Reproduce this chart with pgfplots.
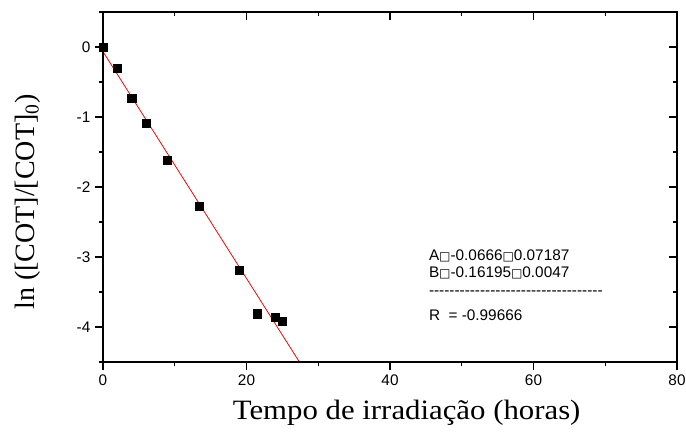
\documentclass[border=0pt]{standalone}
\usepackage{pgfplots}
\pgfplotsset{compat=1.18}
\usepackage{fontspec}
\setmainfont{Liberation Serif}
\newfontfamily\arial{Liberation Sans}
\newfontfamily\dejavu{DejaVu Sans}
\newcommand{\bx}{\raisebox{0.3pt}{\dejavu\fontsize{9}{10}\selectfont □}}
\begin{document}
\begin{tikzpicture}
\pgfplotsset{
  common/.style={
    scale only axis, width=430.5pt, height=262.5pt,
    xmin=0, xmax=80, ymin=-4.5, ymax=0.5,
    xtick={0,20,40,60,80}, minor xtick={10,30,50,70},
    ytick={-4,-3,-2,-1,0}, minor ytick={-4.5,-3.5,-2.5,-1.5,-0.5,0.5},
    major tick length=6pt, minor tick length=3pt,
    axis line style={line width=1.1pt},
    every tick/.style={black, line width=1.1pt},
  }
}
\begin{axis}[common,
  tick align=outside, xtick pos=lower, ytick pos=left,
  xticklabels={0,20,40,60,80},
  yticklabels={-4,-3,-2,-1,0},
  ticklabel style={font=\arial\fontsize{11.5}{13}\selectfont},
  xlabel={Tempo de irradiação (horas)},
  ylabel={ln ([COT]/[COT]$_{\mathrm{0}}$)},
  xlabel style={font=\fontsize{21}{24}\selectfont, at={(axis description cs:0.529,-0.146)}, anchor=center, xscale=1.1},
  ylabel style={font=\fontsize{21}{24}\selectfont, at={(axis description cs:-0.131,0.457)}, anchor=center, rotate=0},
  clip=false,
]
\addplot[only marks, mark=square*, mark size=3.1pt, black] coordinates {
(0,0) (2,-0.30) (4,-0.73) (6,-1.09) (9,-1.62) (13.4,-2.27)
(19,-3.19) (21.5,-3.81) (24,-3.86) (25,-3.92)
};
\addplot[red, line width=0.6pt] coordinates {(0,-0.0666) (27.375,-4.5)};
\node[anchor=west, font=\arial\fontsize{11.5}{13}\selectfont, inner sep=0pt] at (axis cs:45.4,-2.98) {A\bx-0.0666\bx0.07187};
\node[anchor=west, font=\arial\fontsize{11.5}{13}\selectfont, inner sep=0pt] at (axis cs:45.4,-3.23) {B\bx-0.16195\bx0.0047};
\node[anchor=west, font=\arial\fontsize{11.5}{13}\selectfont, inner sep=0pt] at (axis cs:45.4,-3.52) {----------------------------------};
\node[anchor=west, font=\arial\fontsize{11.5}{13}\selectfont, inner sep=0pt] at (axis cs:45.4,-3.83) {R\ \ = -0.99666};
\end{axis}
\begin{axis}[common,
  tick align=inside, xtick pos=upper, ytick pos=right,
  xticklabels={}, yticklabels={},
]
\end{axis}
\pgfresetboundingbox
\path (current axis.south west) ++(-77.25pt,-52.5pt) coordinate (bl);
\path (current axis.north east) ++(6.75pt,9pt) coordinate (tr);
\path[use as bounding box] (bl) rectangle (tr);
\end{tikzpicture}
\end{document}
